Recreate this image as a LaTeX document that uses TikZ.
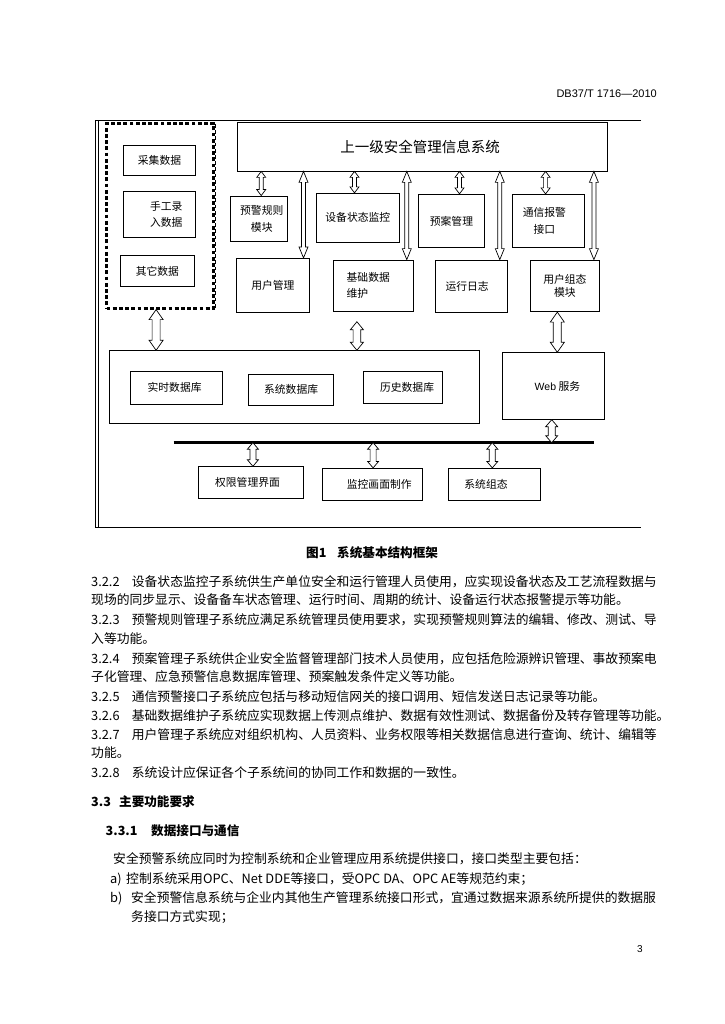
\documentclass[tikz,border=0pt]{standalone}
\usepackage{fontspec}
\setmainfont{Liberation Sans}
\newfontfamily\cjk{Noto Sans CJK SC}
\usetikzlibrary{calc}
\newcommand\udarrow[5]{%
  \path[arr] let \p1=#1, \p2=#2 in
   (\x1,\y1) -- (\x1+#3,\y1-#5) -- (\x1+#4,\y1-#5) -- (\x1+#4,\y2+#5) -- (\x1+#3,\y2+#5) -- (\x1,\y2)
   -- (\x1-#3,\y2+#5) -- (\x1-#4,\y2+#5) -- (\x1-#4,\y1-#5) -- (\x1-#3,\y1-#5) -- cycle;}
\tikzset{
  box/.style={draw=black, line width=0.8pt, rectangle, inner sep=0pt, align=center,
    font=\cjk\fontsize{10.8}{16.7}\selectfont},
  arr/.style={draw=black, line width=0.7pt, fill=white, line join=miter},
  ln/.style={anchor=west, inner sep=0pt, font=\cjk\fontsize{12.8}{15}\selectfont},
  hd/.style={anchor=west, inner sep=0pt, font=\cjk\bfseries\fontsize{12.6}{15}\selectfont},
  frameline/.style={line width=0.8pt, draw=black},
}
\begin{document}
\begin{tikzpicture}[x=1pt,y=-1pt]
\useasboundingbox[fill=white] (0,0) rectangle (724,1024);

% header and page number
\node[anchor=east, inner sep=0pt, font=\fontsize{11}{13}\selectfont] (hdr) at (657,94) {DB37/T 1716—2010};
\node[inner sep=0pt, font=\fontsize{10}{12}\selectfont] (pg) at (640,949) {3};

% frame
\draw[frameline] (641,120.3) -- (95,120.3) -- (95,527.3) -- (641,527.3);
\draw[frameline] (98.3,120.3) -- (98.3,527.3);

% data source group
\node[draw=black, line width=2.6pt, dash pattern=on 3.8pt off 2.4pt, minimum width=107.2, minimum height=184.5, inner sep=0pt] (src) at (160.1,216.05) {};
\draw[line width=1.2pt, dash pattern=on 3.8pt off 2.4pt] (215.4,124) -- (215.4,308);
\node[box, minimum width=72.3, minimum height=30.7] (cj) at (159.5,160.3) {采集数据};
\node[box, minimum width=71.6, minimum height=46.7] (sg) at (159.2,214.3) {\hspace*{14pt}手工录\\\hspace*{14pt}入数据};
\node[box, minimum width=74.1, minimum height=31] (qt) at (157.35,271.2) {其它数据};

% upper system
\node[box, minimum width=370.2, minimum height=48.7, font=\cjk\fontsize{14.5}{17}\selectfont] (top) at (422.5,146.65) {\hspace*{-5pt}上一级安全管理信息系统};

% second row
\node[box, minimum width=56.5, minimum height=45.7] (yj) at (258.75,218.85) {\hspace*{6pt}预警规则\\\hspace*{6pt}模块};
\node[box, minimum width=83, minimum height=49] (sb) at (357.8,217.8) {设备状态监控};
\node[box, minimum width=66.5, minimum height=53.4] (ya) at (451.45,221) {预案管理};
\node[box, minimum width=72.4, minimum height=53] (tx) at (548.4,220.8) {\hspace*{-8pt}通信报警\\\hspace*{-8pt}接口};

% third row
\node[box, minimum width=73, minimum height=54] (yh) at (272.9,285.3) {用户管理};
\node[box, minimum width=79.9, minimum height=51, align=left] (jc) at (373.75,285.5) {基础数据\hspace*{11pt}\\维护};
\node[box, minimum width=72.4, minimum height=52.3] (yx) at (471.6,286.15) {\hspace*{-9pt}运行日志};
\node[box, minimum width=68.2, minimum height=51.7, font=\cjk\fontsize{10.8}{13.5}\selectfont] (zt) at (564.9,285.85) {用户组态\\模块};

% databases
\node[box, minimum width=369.6, minimum height=72.6] (db) at (294.4,387) {};
\node[box, minimum width=92, minimum height=32.3] (ss) at (176.6,387.85) {\hspace*{-4pt}实时数据库};
\node[box, minimum width=85.4, minimum height=31.7] (xt) at (291.1,389.85) {系统数据库};
\node[box, minimum width=78.9, minimum height=32.3] (ls) at (402.55,387.15) {\hspace*{9pt}历史数据库};
\node[box, minimum width=101.6, minimum height=66.6] (web) at (553.4,386) {\hspace*{8pt}{\rmfamily\fontsize{10.5}{12}\selectfont Web} 服务};

% bus
\coordinate (bl) at (173.5,442.7);
\coordinate (br) at (593.9,442.7);
\draw[line width=3pt] (bl) -- (br);

% bottom row
\node[box, minimum width=105, minimum height=31.6] (qx) at (251,482.5) {\hspace*{-7pt}权限管理界面};
\node[box, minimum width=99.5, minimum height=31.7] (jk) at (372.55,484.15) {\hspace*{13.4pt}监控画面制作};
\node[box, minimum width=92, minimum height=31.7] (xz) at (494.5,484.15) {\hspace*{-17pt}系统组态};

% x positions of arrows
\coordinate (s1) at (261.2,0);
\coordinate (s2) at (354.5,0);
\coordinate (s3) at (459.5,0);
\coordinate (s4) at (545.6,0);
\coordinate (l1) at (303.5,0);
\coordinate (l2) at (406.8,0);
\coordinate (l3) at (499.8,0);
\coordinate (l4) at (593.9,0);
\coordinate (b1) at (156.1,0);
\coordinate (b2) at (356.9,0);
\coordinate (b3) at (557.3,0);
\coordinate (b4) at (551.7,0);
\coordinate (d1) at (252.9,0);
\coordinate (d2) at (373.1,0);
\coordinate (d3) at (492.3,0);
\coordinate (fa) at (356.9,321.7);

% arrows
\udarrow{(top.south -| s1)}{(yj.north -| s1)}{4.5pt}{2pt}{6pt}
\udarrow{(top.south -| s2)}{(sb.north -| s2)}{4.5pt}{2pt}{6pt}
\udarrow{(top.south -| s3)}{(ya.north -| s3)}{4.5pt}{2pt}{6pt}
\udarrow{(top.south -| s4)}{(tx.north -| s4)}{4.5pt}{2pt}{6pt}
\udarrow{(top.south -| l1)}{(yh.north -| l1)}{4.5pt}{2pt}{11pt}
\udarrow{(top.south -| l2)}{(jc.north -| l2)}{4.5pt}{2pt}{11pt}
\udarrow{(top.south -| l3)}{(yx.north -| l3)}{4.5pt}{2pt}{11pt}
\udarrow{(top.south -| l4)}{(zt.north -| l4)}{4.5pt}{2pt}{11pt}
\udarrow{(src.south -| b1)}{(db.north -| b1)}{7pt}{4pt}{10pt}
\udarrow{(fa)}{(db.north -| b2)}{6.5pt}{3.8pt}{8pt}
\udarrow{(zt.south -| b3)}{(web.north -| b3)}{7pt}{4pt}{10pt}
\udarrow{(web.south -| b4)}{(bl -| b4)}{6pt}{3.5pt}{7pt}
\udarrow{(bl -| d1)}{(qx.north -| d1)}{5.5pt}{3pt}{6.5pt}
\udarrow{(bl -| d2)}{(jk.north -| d2)}{5.5pt}{3pt}{6.5pt}
\udarrow{(bl -| d3)}{(xz.north -| d3)}{5.5pt}{3pt}{6.5pt}

% caption
\node[hd] (cap) at (306,553) {\makebox[31pt][l]{图1}系统基本结构框架};

% body text
\node[ln] (t1) at (91,582) {\makebox[40.7pt][l]{3.2.2}设备状态监控子系统供生产单位安全和运行管理人员使用，应实现设备状态及工艺流程数据与};
\node[ln] (t2) at (91,600) {现场的同步显示、设备备车状态管理、运行时间、周期的统计、设备运行状态报警提示等功能。};
\node[ln] (t3) at (91,620) {\makebox[40.7pt][l]{3.2.3}预警规则管理子系统应满足系统管理员使用要求，实现预警规则算法的编辑、修改、测试、导};
\node[ln] (t4) at (91,639) {入等功能。};
\node[ln] (t5) at (91,659) {\makebox[40.7pt][l]{3.2.4}预案管理子系统供企业安全监督管理部门技术人员使用，应包括危险源辨识管理、事故预案电};
\node[ln] (t6) at (91,677) {子化管理、应急预警信息数据库管理、预案触发条件定义等功能。};
\node[ln] (t7) at (91,697) {\makebox[40.7pt][l]{3.2.5}通信预警接口子系统应包括与移动短信网关的接口调用、短信发送日志记录等功能。};
\node[ln] (t8) at (91,716) {\makebox[40.7pt][l]{3.2.6}基础数据维护子系统应实现数据上传测点维护、数据有效性测试、数据备份及转存管理等功能。};
\node[ln] (t9) at (91,735) {\makebox[40.7pt][l]{3.2.7}用户管理子系统应对组织机构、人员资料、业务权限等相关数据信息进行查询、统计、编辑等};
\node[ln] (t10) at (91,753) {功能。};
\node[ln] (t11) at (91,773) {\makebox[40.7pt][l]{3.2.8}系统设计应保证各个子系统间的协同工作和数据的一致性。};
\node[hd] (h1) at (91,802) {\makebox[28pt][l]{3.3}主要功能要求};
\node[hd] (h2) at (105.5,831) {\makebox[45.5pt][l]{3.3.1}数据接口与通信};
\node[ln] (t12) at (113,859) {安全预警系统应同时为控制系统和企业管理应用系统提供接口，接口类型主要包括：};
\node[ln] (t13) at (110,879) {\makebox[16pt][l]{a)}控制系统采用OPC、Net DDE等接口，受OPC DA、OPC AE等规范约束；};
\node[ln] (t14) at (110,898) {\makebox[21pt][l]{b)}安全预警信息系统与企业内其他生产管理系统接口形式，宜通过数据来源系统所提供的数据服};
\node[ln] (t15) at (131,917) {务接口方式实现；};
\end{tikzpicture}
\end{document}
